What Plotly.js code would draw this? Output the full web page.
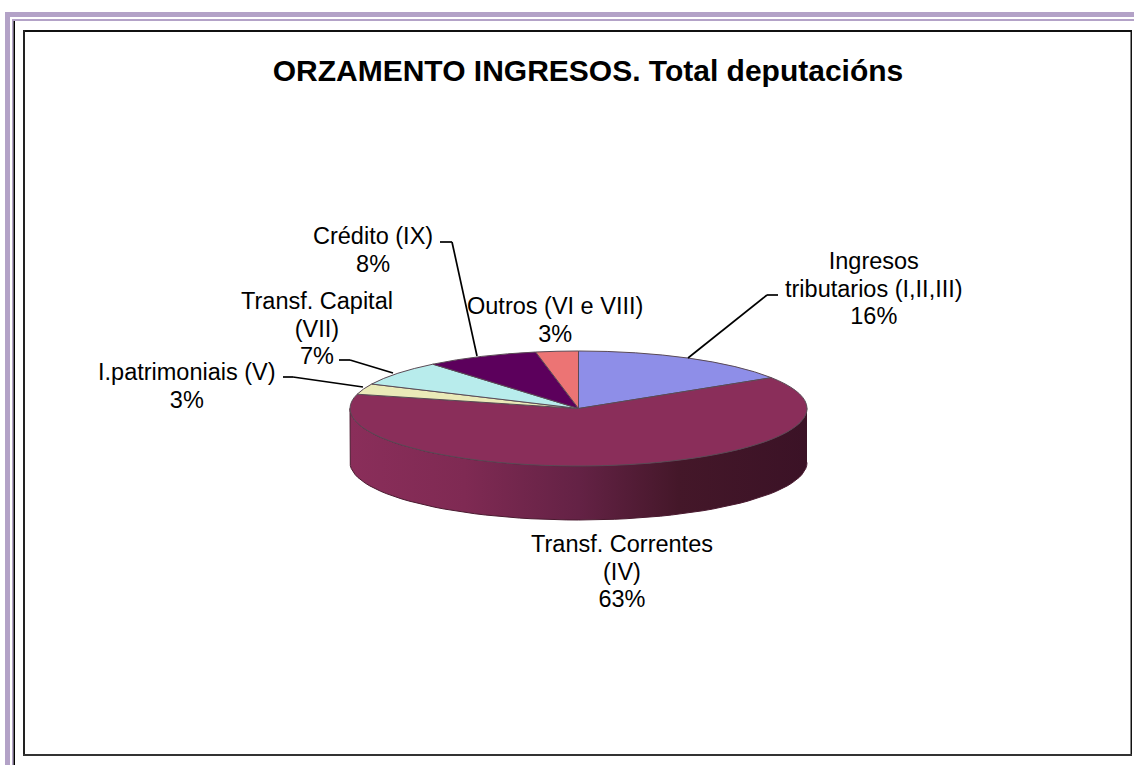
<!DOCTYPE html>
<html>
<head>
<meta charset="utf-8">
<script src="https://cdn.plot.ly/plotly-3.0.1.min.js"></script>
<style>html,body{margin:0;padding:0;background:#fff;overflow:hidden}</style>
</head>
<body>
<div id="chart" style="width:1134px;height:765px"></div>
<script>
const chartTitle = "ORZAMENTO INGRESOS. Total deputacións";
const categories = ["Ingresos<br>tributarios (I,II,III)", "Transf. Correntes<br>(IV)", "I.patrimoniais (V)", "Transf. Capital<br>(VII)", "Crédito (IX)", "Outros (VI e VIII)"];
const percentages = [16, 63, 3, 7, 8, 3];
const sliceColors = ["#8E8EE8", "#8A2E5A", "#EAEAB8", "#B8ECEC", "#5C005C", "#EC7474"];
const labelX = [874, 622, 187, 317, 373, 555];
const labelY = [291, 574, 387, 331, 251, 321];

const W = 1134, H = 765;
const cx = 578.5, cy = 408.5, rx = 228.5, ry = 57.5, depth = 54;

// side wall of the pie: the front half of the rim, dropped by the depth
const wallX = [], wallY = [];
for (let d = 90; d <= 270; d += 3) { const a = d * Math.PI / 180; wallX.push(cx + rx * Math.sin(a)); wallY.push(cy - ry * Math.cos(a)); }
for (let d = 270; d >= 90; d -= 3) { const a = d * Math.PI / 180; wallX.push(cx + rx * Math.sin(a)); wallY.push(cy + depth - ry * Math.cos(a)); }

const wall = {
  type: "scatter", mode: "lines", x: wallX, y: wallY, fill: "toself", hoverinfo: "skip", showlegend: false,
  line: {color: "#4a1a30", width: 1},
  fillgradient: {type: "horizontal", colorscale: [[0, "#8A2E5A"], [0.25, "#7F2A53"], [0.5, "#642245"], [0.72, "#441729"], [1, "#3B1226"]]}
};
const pie = {
  type: "pie", labels: categories.map(c => c.replace("<br>", " ")), values: percentages, sort: false, direction: "clockwise", rotation: 0,
  textinfo: "none", hoverinfo: "label+percent", showlegend: false,
  marker: {colors: sliceColors, line: {color: "#5a4a55", width: 1}},
  domain: {x: [(cx - rx) / W, (cx + rx) / W], y: [1 - (cy + rx) / H, 1 - (cy - rx) / H]}
};

const seg = (x0, y0, x1, y1) => ({type: "line", xref: "x", yref: "y", x0, y0, x1, y1, line: {color: "#000", width: 1.7}});
const box = (x0, y0, x1, y1, c) => ({type: "rect", xref: "x", yref: "y", x0, y0, x1, y1, fillcolor: c, line: {width: 0}, layer: "below"});
const shapes = [
  box(5, 12, W, 17, "#B3A2C7"), box(5, 12, 10, H, "#B3A2C7"),
  box(12, 19, W, 21, "#B3A2C7"), box(12, 19, 13.5, H, "#B3A2C7"), box(13.5, 21, 15, H, "#000"),
  box(23, 30, 1132, 32, "#111"), box(23, 30, 25, 756, "#222"), box(1130.5, 30, 1132, 756, "#111"), box(23, 754, 1132, 756, "#333"),
  seg(778, 295, 767, 295), seg(767, 295, 688, 358),
  seg(440, 242, 452, 242), seg(452, 242, 477, 356),
  seg(339, 360, 350, 360), seg(350, 360, 393, 373),
  seg(283, 377, 293, 377), seg(293, 377, 363, 387)
];
const annotations = categories.map((c, i) => ({
  xref: "x", yref: "y", x: labelX[i], y: labelY[i], text: c + "<br>" + percentages[i] + "%",
  showarrow: false, xanchor: "center", yanchor: "middle", align: "center",
  font: {family: "Liberation Sans, Arial, sans-serif", size: 23.5, color: "#000"}
}));

const layout = {
  width: W, height: H, margin: {l: 0, r: 0, t: 0, b: 0},
  paper_bgcolor: "#fff", plot_bgcolor: "#fff", showlegend: false,
  title: {text: "<b>" + chartTitle + "</b>", x: 588 / W, y: 1 - 70.5 / H, xanchor: "center", yanchor: "middle",
    font: {family: "Liberation Sans, Arial, sans-serif", size: 30, color: "#000"}},
  xaxis: {visible: false, range: [0, W], fixedrange: true},
  yaxis: {visible: false, range: [H, 0], fixedrange: true},
  shapes, annotations
};
Plotly.newPlot("chart", [wall, pie], layout, {displayModeBar: false}).then(() => {
  // tilt the pie into its perspective view
  const k = ry / rx;
  document.querySelector(".pielayer").setAttribute("transform", `translate(0,${cy}) scale(1,${k}) translate(0,${-cy})`);
  document.querySelectorAll(".pielayer path.surface").forEach(p => p.style.vectorEffect = "non-scaling-stroke");
  // tighter line spacing in the slice labels
  document.querySelectorAll(".annotation-text").forEach(t => {
    t.querySelectorAll("tspan.line").forEach((s, i) => s.setAttribute("dy", (i * 1.18) + "em"));
  });
});
</script>
</body>
</html>
